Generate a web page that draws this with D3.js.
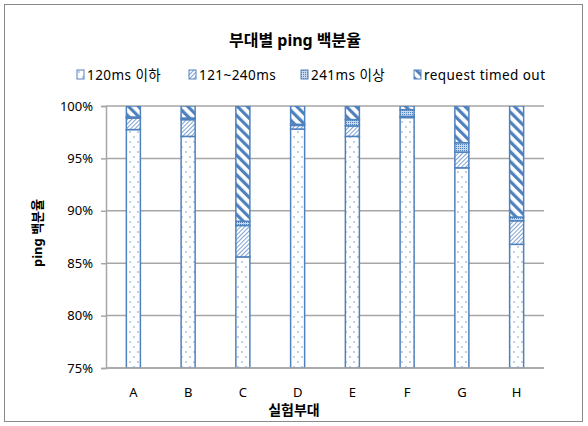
<!DOCTYPE html>
<html>
<head>
<meta charset="utf-8">
<script src="https://cdn.jsdelivr.net/npm/d3@7"></script>
<style>
  body { margin: 0; background: #fff; }
  text { font-family: "Noto Sans", "Noto Sans CJK KR", sans-serif; fill: #000; }
</style>
</head>
<body>
<div id="chart"></div>
<script>
/* ---------------- DATA ---------------- */
const UNITS     = ["A","B","C","D","E","F","G","H"];
const UNDER_120 = [97.75, 97.1, 85.6, 97.8, 97.1, 98.9, 94.1, 86.8];
const R121_240  = [1.1, 1.6, 3.0, 0.35, 1.0, 0.1, 1.5, 2.25];
const OVER_241  = [0.1, 0.15, 0.4, 0.1, 0.6, 0.65, 0.9, 0.35];
const TIMED_OUT = [1.05, 1.15, 11.0, 1.75, 1.3, 0.35, 3.5, 10.6];
const SERIES    = ["u120","r121","o241","tout"];
const SERIES_LABEL = ["120ms 이하","121~240ms","241ms 이상","request timed out"];
const Y_TICKS   = [75, 80, 85, 90, 95, 100];

/* ---------------- LAYOUT ---------------- */
const W = 588, H = 426;
const M = {top:106, right:44, bottom:58, left:106},
      IW = W-M.left-M.right, IH = H-M.top-M.bottom;
const BLUE = "#4f81bd";

const rows = UNITS.map((u,i)=>({unit:u, u120:UNDER_120[i], r121:R121_240[i], o241:OVER_241[i], tout:TIMED_OUT[i]}));
const stacked = d3.stack().keys(SERIES)(rows);

const svg = d3.select("#chart").append("svg")
  .attr("width", W).attr("height", H);

/* patterns */
const defs = svg.append("defs");
const pDots = defs.append("pattern").attr("id","p-u120")
  .attr("patternUnits","userSpaceOnUse").attr("width",8).attr("height",10);
pDots.append("rect").attr("width",8).attr("height",10).attr("fill","#fff");
pDots.append("circle").attr("cx",2).attr("cy",2).attr("r",0.7).attr("fill",BLUE);
pDots.append("circle").attr("cx",6).attr("cy",7).attr("r",0.7).attr("fill",BLUE);

const pHatch = defs.append("pattern").attr("id","p-r121")
  .attr("patternUnits","userSpaceOnUse").attr("width",3).attr("height",3)
  .attr("patternTransform","rotate(45)");
pHatch.append("rect").attr("width",3).attr("height",3).attr("fill","#fff");
pHatch.append("rect").attr("width",1).attr("height",3).attr("fill","#7fa3d3");

const pGrid = defs.append("pattern").attr("id","p-o241")
  .attr("patternUnits","userSpaceOnUse").attr("width",2).attr("height",2);
pGrid.append("rect").attr("width",2).attr("height",2).attr("fill","#c8d8ee");
pGrid.append("rect").attr("width",1).attr("height",1).attr("fill",BLUE);

const pStripe = defs.append("pattern").attr("id","p-tout")
  .attr("patternUnits","userSpaceOnUse").attr("width",7).attr("height",7)
  .attr("patternTransform","rotate(-45)");
pStripe.append("rect").attr("width",7).attr("height",7).attr("fill","#fff");
pStripe.append("rect").attr("width",3.2).attr("height",7).attr("fill",BLUE);

defs.append("clipPath").attr("id","plot-clip")
  .append("rect").attr("x",M.left).attr("y",M.top).attr("width",IW).attr("height",IH);

/* chart border */
svg.append("rect")
  .attr("x",4.5).attr("y",4.5).attr("width",W-10).attr("height",H-9)
  .attr("fill","none").attr("stroke","#8a8a8a");

/* title */
svg.append("text")
  .attr("x",295).attr("y",46)
  .attr("text-anchor","middle")
  .style("font-size","16px").style("font-weight","bold")
  .text("부대별 ping 백분율");

/* scales */
const x = d3.scaleBand().domain(UNITS).range([M.left, M.left+IW]).paddingInner(0.744).paddingOuter(0.372);
const y = d3.scaleLinear().domain([75,100]).range([M.top+IH, M.top]).clamp(true);

/* gridlines */
svg.append("g")
  .selectAll("line").data(Y_TICKS).join("line")
  .attr("x1",M.left).attr("x2",M.left+IW)
  .attr("y1",d=>y(d)).attr("y2",d=>y(d))
  .attr("stroke","#a6a6a6").attr("stroke-width",1.5);

/* y axis */
const yAxis = svg.append("g")
  .attr("transform",`translate(${M.left},0)`)
  .call(d3.axisLeft(y).tickValues(Y_TICKS).tickSize(5).tickPadding(8).tickFormat(d=>d+"%"));
yAxis.select(".domain").attr("stroke","#a6a6a6").attr("stroke-width",1.5);
yAxis.selectAll(".tick line").attr("stroke","#a6a6a6").attr("stroke-width",1.5);
yAxis.selectAll(".tick text").style("font-size","13px").style("font-family",null).attr("fill","#000");

/* bars */
svg.append("g").attr("clip-path","url(#plot-clip)")
  .selectAll("g").data(stacked).join("g")
  .attr("fill",s=>`url(#p-${s.key})`)
  .selectAll("rect").data(s=>s).join("rect")
  .attr("x",d=>x(d.data.unit))
  .attr("width",x.bandwidth())
  .attr("y",d=>y(d[1]))
  .attr("height",d=>y(d[0])-y(d[1]))
  .attr("stroke",BLUE).attr("stroke-width",1.5);

/* x axis */
svg.append("line")
  .attr("x1",M.left).attr("x2",M.left+IW)
  .attr("y1",M.top+IH).attr("y2",M.top+IH)
  .attr("stroke","#a6a6a6").attr("stroke-width",1.5);
svg.append("g")
  .selectAll("text").data(UNITS).join("text")
  .attr("x",d=>x(d)+x.bandwidth()/2).attr("y",M.top+IH+29)
  .attr("text-anchor","middle")
  .style("font-size","13px")
  .text(d=>d);

/* axis titles */
svg.append("text")
  .attr("x",294).attr("y",415)
  .attr("text-anchor","middle")
  .style("font-size","14px").style("font-weight","bold")
  .text("실험부대");
svg.append("text")
  .attr("transform","translate(42,233) rotate(-90)")
  .attr("text-anchor","middle")
  .style("font-size","13px").style("font-weight","bold")
  .text("ping 백분율");

/* legend */
const LEG_X = [77, 189, 301, 414];
const leg = svg.append("g").selectAll("g").data(SERIES).join("g")
  .attr("transform",(d,i)=>`translate(${LEG_X[i]},70)`);
leg.append("rect")
  .attr("width",7).attr("height",9).attr("y",0)
  .attr("fill",d=>`url(#p-${d})`).attr("stroke",BLUE).attr("stroke-width",1);
leg.append("text")
  .attr("x",10).attr("y",10)
  .style("font-size","13.5px").style("letter-spacing","0.45px")
  .text((d,i)=>SERIES_LABEL[i]);
</script>
</body>
</html>
